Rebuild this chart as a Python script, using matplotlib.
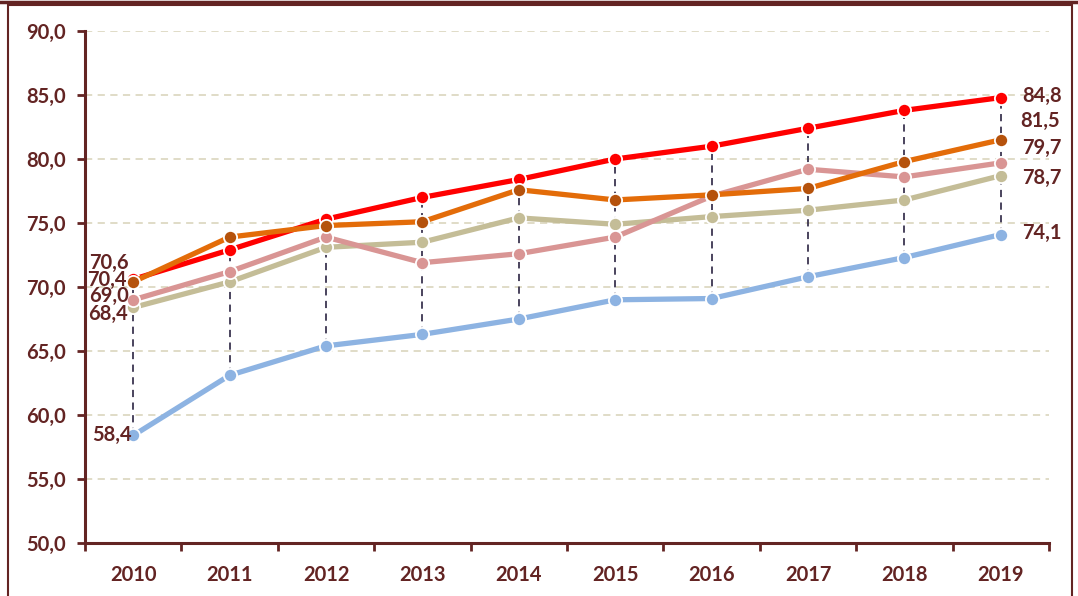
import numpy as np
import matplotlib
matplotlib.use('Agg')
import matplotlib.pyplot as plt
from matplotlib.patches import Rectangle
from matplotlib.lines import Line2D

plt.rcParams['font.family'] = ['Lato', 'DejaVu Sans']

years = ['2010', '2011', '2012', '2013', '2014', '2015', '2016', '2017', '2018', '2019']
red_vals = [70.6, 72.9, 75.3, 77.0, 78.4, 80.0, 81.0, 82.4, 83.8, 84.8]
orange_vals = [70.4, 73.9, 74.8, 75.1, 77.6, 76.8, 77.2, 77.7, 79.8, 81.5]
pink_vals = [69.0, 71.2, 73.9, 71.9, 72.6, 73.9, 77.1, 79.2, 78.6, 79.7]
beige_vals = [68.4, 70.4, 73.1, 73.5, 75.4, 74.9, 75.5, 76.0, 76.8, 78.7]
blue_vals = [58.4, 63.1, 65.4, 66.3, 67.5, 69.0, 69.1, 70.8, 72.3, 74.1]

txt = '#632423'
x = np.arange(len(years))

fig = plt.figure(figsize=(10.78, 5.96), dpi=100)
ax = fig.add_axes([85 / 1078, 1 - 543 / 596, (1049 - 85) / 1078, (543 - 31) / 596])

# high-low lines
allv = np.array([red_vals, orange_vals, pink_vals, beige_vals, blue_vals])
ax.vlines(x, allv.min(axis=0), allv.max(axis=0), colors='#3b3550', linestyles=(0, (4, 3)),
          linewidth=1.3, zorder=2)

series = [
    (blue_vals, '#8db3e2', '#8db3e2'),
    (beige_vals, '#c4bd97', '#c4bd97'),
    (pink_vals, '#d99594', '#d99594'),
    (red_vals, '#ff0000', '#ff0000'),
    (orange_vals, '#e36c09', '#b5520c'),
]
for i, (vals, lc, mc) in enumerate(series):
    ax.plot(x, vals, color=lc, lw=3.8, marker='o', ms=9.5, mfc=mc, mec='white', mew=1.3,
            solid_capstyle='round', zorder=3 + i)

# value labels
left = [(red_vals[0], -4, 16), (orange_vals[0], -7, 2), (pink_vals[0], -4, 4),
        (beige_vals[0], -5, -6), (blue_vals[0], -1, 1)]
for v, dx, dy in left:
    ax.annotate(f'{v:.1f}'.replace('.', ','), (0, v), xytext=(dx, dy), textcoords='offset pixels',
                ha='right', va='center', fontsize=14.5, fontweight='bold', color=txt, zorder=10)
right = [(red_vals[-1], 21, 2), (orange_vals[-1], 19, 19), (pink_vals[-1], 21, 15),
         (beige_vals[-1], 21, -2), (blue_vals[-1], 21, 2)]
for v, dx, dy in right:
    ax.annotate(f'{v:.1f}'.replace('.', ','), (9, v), xytext=(dx, dy), textcoords='offset pixels',
                ha='left', va='center', fontsize=14.5, fontweight='bold', color=txt, zorder=10)

ax.set_xlim(-0.5, 9.5)
ax.set_ylim(50, 90)
yt = np.arange(50, 91, 5)
ax.set_yticks(yt)
ax.set_yticklabels([f'{t:.1f}'.replace('.', ',') for t in yt])
ax.set_xticks(x)
ax.set_xticklabels(years)
ax.set_xticks(np.arange(-0.5, 10, 1), minor=True)
ax.tick_params(axis='x', which='major', length=0, pad=16)
ax.tick_params(axis='x', which='minor', length=6, width=2, color=txt, direction='out')
ax.tick_params(axis='y', length=6, width=2, color=txt, pad=8)
for lab in ax.get_xticklabels() + ax.get_yticklabels():
    lab.set_fontsize(14.5)
    lab.set_fontweight('bold')
    lab.set_color(txt)

ax.grid(axis='y', color='#ddd9c3', linestyle=(0, (4, 3)), linewidth=1.3)
ax.set_axisbelow(True)
for s in ['top', 'right']:
    ax.spines[s].set_visible(False)
for s in ['left', 'bottom']:
    ax.spines[s].set_color(txt)
    ax.spines[s].set_linewidth(2.2)

# outer frame
fig.add_artist(Line2D([0, 1], [1 - 1.5 / 596, 1 - 1.5 / 596], color=txt, lw=2.5))
fig.add_artist(Rectangle((8 / 1078, -0.05), (1072 - 8) / 1078, 1.05 - 5 / 596,
                         fill=False, edgecolor=txt, lw=1.5))

fig.savefig('out.png', dpi=100)
